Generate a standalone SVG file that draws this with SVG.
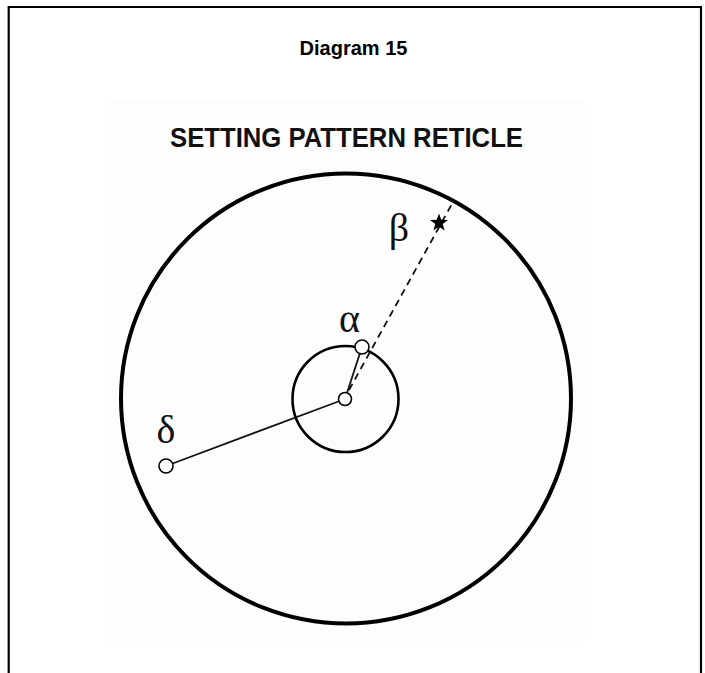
<svg xmlns="http://www.w3.org/2000/svg" width="705" height="673" viewBox="0 0 705 673">
<style>
.frame{fill:none;stroke:#000;stroke-width:2.2}
.ring{fill:none;stroke:#000}
.node{fill:#fff;stroke:#000;stroke-width:1.6}
.lbl{font-family:"Liberation Serif","Times New Roman",serif;font-size:40px;fill:#111}
.conn{stroke:#111;stroke-width:1.8;fill:none}
</style>
<rect width="705" height="673" fill="#fff"/>
<path class="frame" d="M8.7,673 V7 H701 V673"/>
<rect x="105" y="101" width="480" height="541" fill="#fdfdfd"/>
<text x="353.5" y="55" text-anchor="middle" font-family="Liberation Sans, Arial, sans-serif" font-weight="bold" font-size="20">Diagram 15</text>
<text x="170" y="147" font-family="Liberation Sans, Arial, sans-serif" font-weight="bold" font-size="27" textLength="353" lengthAdjust="spacingAndGlyphs" fill="#111">SETTING PATTERN RETICLE</text>
<g id="outer-circle"><circle class="ring" cx="346" cy="398.5" r="225" stroke-width="4"/></g>
<g id="inner-circle"><circle class="ring" cx="345.5" cy="399" r="53" stroke-width="2.6"/></g>
<g id="connectors">
<line class="conn" x1="345" y1="399" x2="362" y2="347"/>
<line class="conn" x1="345" y1="399" x2="166" y2="466"/>
<line class="conn" x1="349" y1="390" x2="453" y2="202" stroke-dasharray="7,5"/>
</g>
<g id="center"><circle class="node" cx="345" cy="399" r="6.5"/></g>
<g id="alpha"><circle class="node" cx="362" cy="347" r="7"/><text class="lbl" x="349.5" y="332" text-anchor="middle">α</text></g>
<g id="delta"><circle class="node" cx="166" cy="466" r="7"/><text class="lbl" x="166" y="443" text-anchor="middle">δ</text></g>
<g id="beta"><polygon fill="#000" points="439,213.5 441.3,219.8 448,220 442.7,224.1 444.6,230.6 439,226.8 433.4,230.6 435.3,224.1 430,220 436.7,219.8"/><text class="lbl" x="399" y="241" text-anchor="middle">β</text></g>
</svg>
